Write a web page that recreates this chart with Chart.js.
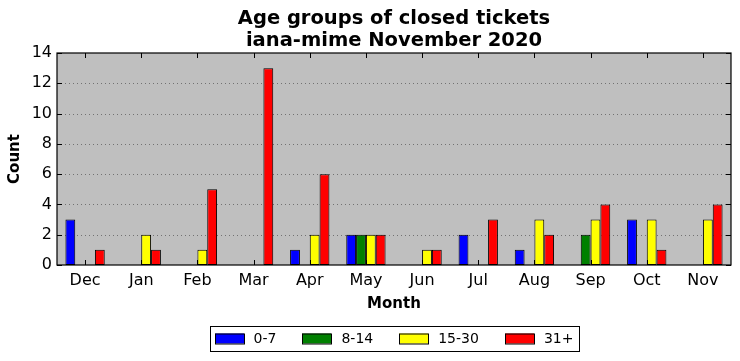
<!DOCTYPE html>
<html>
<head>
<meta charset="utf-8">
<script src="https://cdn.jsdelivr.net/npm/chart.js"></script>
<style>
  html, body { margin: 0; padding: 0; background: #fff; }
  #wrap { width: 740px; height: 361px; }
</style>
</head>
<body>
<div id="wrap"><canvas id="ageChart" width="740" height="361"></canvas></div>
<script>
// Data
const months = ['Dec', 'Jan', 'Feb', 'Mar', 'Apr', 'May', 'Jun', 'Jul', 'Aug', 'Sep', 'Oct', 'Nov'];
const age0to7 = [3, 0, 0, 0, 1, 2, 0, 2, 1, 0, 3, 0];
const age8to14 = [0, 0, 0, 0, 0, 2, 0, 0, 0, 2, 0, 0];
const age15to30 = [0, 2, 1, 0, 2, 2, 1, 0, 3, 3, 3, 3];
const age31plus = [1, 1, 5, 13, 6, 2, 1, 3, 2, 4, 1, 4];
const seriesLabels = ['0-7', '8-14', '15-30', '31+'];
const seriesColors = ['#0000ff', '#008000', '#ffff00', '#ff0000'];
const yTicks = [0, 2, 4, 6, 8, 10, 12, 14];

const titleLines = ['Age groups of closed tickets', 'iana-mime November 2020'];
const FONT = '"DejaVu Sans", sans-serif';

// Plot area background, dotted grid, inward ticks, title and boxed legend
const decorPlugin = {
    id: 'decor',
    beforeDraw(chart) {
        const ctx = chart.ctx;
        const a = chart.chartArea;
        ctx.save();
        ctx.fillStyle = '#bfbfbf';
        ctx.fillRect(a.left, a.top, a.right - a.left, a.bottom - a.top);
        // dotted horizontal grid
        const y = chart.scales.y;
        ctx.strokeStyle = 'rgba(0,0,0,0.4)';
        ctx.lineWidth = 1;
        ctx.setLineDash([1, 3]);
        yTicks.forEach(v => {
            if (v === 0 || v === 14) return;
            const py = Math.round(y.getPixelForValue(v)) + 0.5;
            ctx.beginPath();
            ctx.moveTo(a.left, py);
            ctx.lineTo(a.right, py);
            ctx.stroke();
        });
        ctx.restore();
    },
    afterDraw(chart) {
        const ctx = chart.ctx;
        const a = chart.chartArea;
        const x = chart.scales.x;
        const y = chart.scales.y;
        ctx.save();
        // frame
        ctx.strokeStyle = '#000';
        ctx.lineWidth = 1.2;
        ctx.strokeRect(a.left, a.top, a.right - a.left, a.bottom - a.top);
        // inward ticks
        ctx.lineWidth = 1;
        ctx.beginPath();
        months.forEach((m, i) => {
            const px = Math.round(x.getPixelForValue(i)) + 0.5;
            ctx.moveTo(px, a.bottom); ctx.lineTo(px, a.bottom - 5);
            ctx.moveTo(px, a.top); ctx.lineTo(px, a.top + 5);
        });
        yTicks.forEach(v => {
            const py = Math.round(y.getPixelForValue(v)) + 0.5;
            ctx.moveTo(a.left, py); ctx.lineTo(a.left + 5, py);
            ctx.moveTo(a.right, py); ctx.lineTo(a.right - 5, py);
        });
        ctx.stroke();

        const cx = (a.left + a.right) / 2;
        // title
        ctx.fillStyle = '#000';
        ctx.textAlign = 'center';
        ctx.textBaseline = 'middle';
        ctx.font = 'bold 19.5px ' + FONT;
        ctx.fillText(titleLines[0], cx, 19);
        ctx.fillText(titleLines[1], cx, 41);

        // legend
        ctx.font = '14px ' + FONT;
        ctx.textAlign = 'left';
        const sw = 29, gapText = 10, gapItem = 26, pad = 5;
        let total = 0;
        seriesLabels.forEach((l, i) => {
            total += sw + gapText + ctx.measureText(l).width;
            if (i < seriesLabels.length - 1) total += gapItem;
        });
        const boxW = total + pad * 2;
        const boxL = cx - boxW / 2;
        const boxT = 326, boxH = 25;
        ctx.lineWidth = 1;
        ctx.strokeStyle = '#000';
        ctx.strokeRect(Math.round(boxL) + 0.5, boxT + 0.5, Math.round(boxW), boxH);
        let lx = boxL + pad;
        const midY = boxT + boxH / 2;
        seriesLabels.forEach((l, i) => {
            ctx.fillStyle = seriesColors[i];
            ctx.fillRect(Math.round(lx), midY - 5, sw, 10);
            ctx.strokeRect(Math.round(lx) + 0.5, midY - 5 + 0.5, sw, 10);
            ctx.fillStyle = '#000';
            ctx.fillText(l, lx + sw + gapText, midY + 1);
            lx += sw + gapText + ctx.measureText(l).width + gapItem;
        });
        ctx.restore();
    }
};

const datasets = [age0to7, age8to14, age15to30, age31plus].map((vals, i) => ({
    label: seriesLabels[i],
    data: vals,
    backgroundColor: seriesColors[i],
    borderColor: '#000',
    borderWidth: 1,
    borderSkipped: false,
    categoryPercentage: 0.7,
    barPercentage: 1.0
}));

const ctx = document.getElementById('ageChart').getContext('2d');
new Chart(ctx, {
    type: 'bar',
    data: { labels: months, datasets: datasets },
    plugins: [decorPlugin],
    options: {
        responsive: false,
        animation: false,
        devicePixelRatio: 1,
        layout: { padding: { top: 53, right: 9, bottom: 43, left: 0 } },
        plugins: {
            legend: { display: false },
            title: { display: false },
            tooltip: { enabled: false }
        },
        scales: {
            x: {
                grid: { display: false, drawTicks: false },
                border: { display: false },
                ticks: { color: '#000', font: { family: FONT, size: 16 }, padding: 6, maxRotation: 0 },
                title: { display: true, text: 'Month', color: '#000', font: { family: FONT, size: 15, weight: 'bold' }, padding: { top: 2, bottom: 5 } },
                afterFit(scale) { scale.height = 53; }
            },
            y: {
                min: 0,
                max: 14,
                grid: { display: false, drawTicks: false },
                border: { display: false },
                ticks: { stepSize: 2, color: '#000', font: { family: FONT, size: 16 }, padding: 5 },
                title: { display: true, text: 'Count', color: '#000', font: { family: FONT, size: 15, weight: 'bold' }, padding: { top: 6, bottom: 4 } },
                afterFit(scale) { scale.width = 57; }
            }
        }
    }
});
</script>
</body>
</html>
